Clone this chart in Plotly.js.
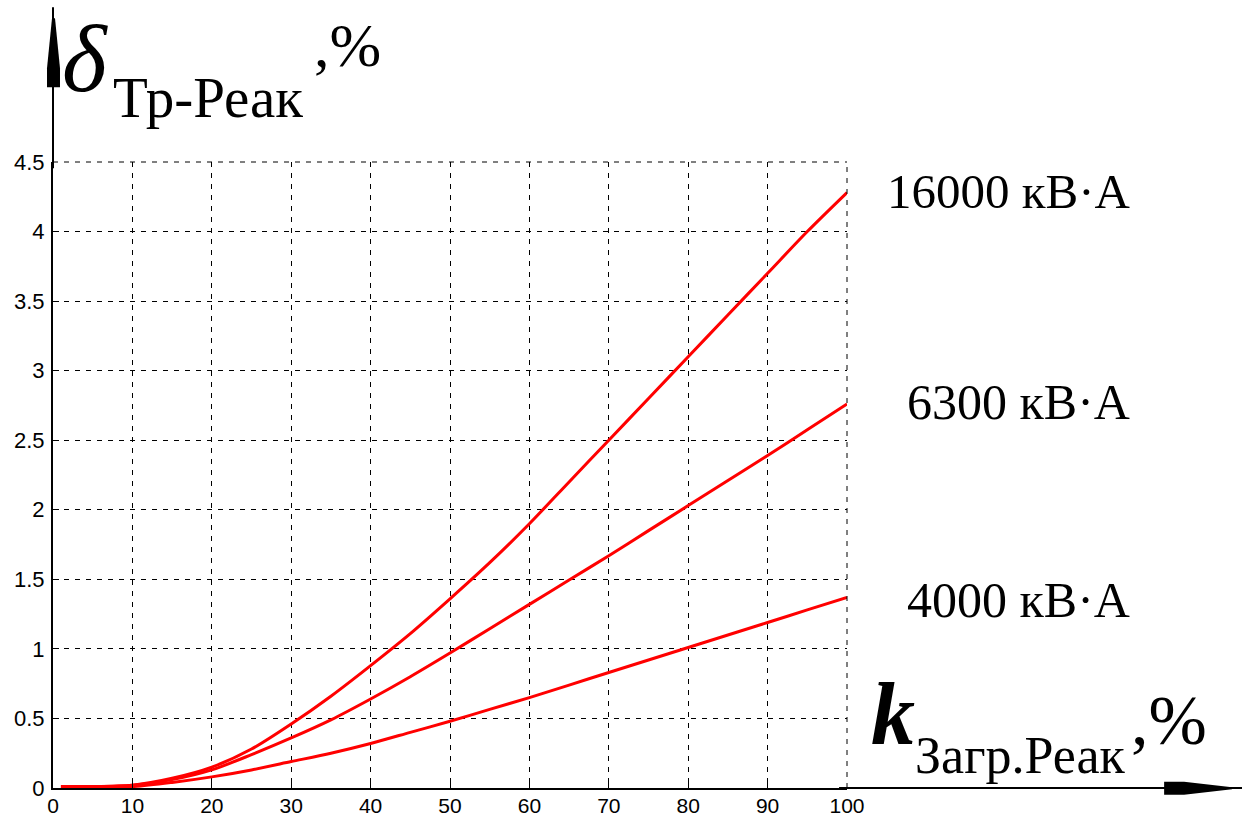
<!DOCTYPE html>
<html>
<head>
<meta charset="utf-8">
<script src="https://cdn.plot.ly/plotly-3.0.1.min.js"></script>
<style>html,body{margin:0;padding:0;background:#fff;}#chart{width:1249px;height:821px;}</style>
</head>
<body>
<div id="chart"></div>
<script>
// ---- data ----
const kLoad = [1, 5, 10, 15, 20, 25, 30, 35, 40, 45, 50, 55, 60, 65, 70, 75, 80, 85, 90, 95, 100];
const s16000 = [0.01, 0.01, 0.02, 0.07, 0.15, 0.28, 0.46, 0.66, 0.88, 1.11, 1.36, 1.62, 1.90, 2.20, 2.50, 2.80, 3.10, 3.40, 3.70, 4.00, 4.28];
const s6300  = [0.01, 0.01, 0.02, 0.06, 0.13, 0.24, 0.36, 0.49, 0.64, 0.80, 0.97, 1.145, 1.32, 1.495, 1.67, 1.85, 2.03, 2.21, 2.39, 2.575, 2.76];
const s4000  = [0.01, 0.01, 0.01, 0.04, 0.08, 0.13, 0.19, 0.25, 0.32, 0.40, 0.48, 0.565, 0.65, 0.74, 0.83, 0.92, 1.01, 1.10, 1.19, 1.28, 1.37];
const seriesNames = ['16000 кВ·А', '6300 кВ·А', '4000 кВ·А'];
const xTicks = [0, 10, 20, 30, 40, 50, 60, 70, 80, 90, 100];
const yTicks = [0, 0.5, 1, 1.5, 2, 2.5, 3, 3.5, 4, 4.5];

// ---- layout geometry (pixels) ----
const W = 1249, H = 821;
const L = 52.5, R = 847.5, T = 161.7, B = 787.7;
const px = x => (x - L) / (R - L);
const py = y => (B - y) / (B - T);
const poly = pts => pts.map((p, i) => (i ? 'L' : 'M') + px(p[0]).toFixed(5) + ',' + py(p[1]).toFixed(5)).join(' ') + ' Z';

const serif = 'Liberation Serif, DejaVu Serif, serif';
const sans = 'Liberation Sans, Arial, sans-serif';
const red = '#ff0000';

const mk = (y, name) => ({
  x: kLoad, y: y, name: name, type: 'scatter', mode: 'lines',
  line: {color: red, width: 3, shape: 'spline', smoothing: 0.8},
  hoverinfo: 'skip'
});
const data = [mk(s16000, seriesNames[0]), mk(s6300, seriesNames[1]), mk(s4000, seriesNames[2])];

const ann = (text, x, y, size, opts) => Object.assign({
  text: text, xref: 'paper', yref: 'paper', x: px(x), y: py(y),
  xanchor: 'left', yanchor: 'middle', showarrow: false,
  font: {family: serif, size: size, color: '#000'}
}, opts || {});

const layout = {
  width: W, height: H,
  margin: {l: L, r: W - R, t: T, b: H - B, pad: 0},
  paper_bgcolor: '#fff', plot_bgcolor: '#fff',
  showlegend: false,
  xaxis: {
    range: [0, 100], tickvals: xTicks, ticktext: xTicks.map(String),
    showgrid: true, gridcolor: '#000', gridwidth: 1, griddash: '5px,6px',
    showline: true, linecolor: '#000', linewidth: 2,
    ticks: 'inside', ticklen: 6, tickcolor: '#000', tickwidth: 1,
    zeroline: false, fixedrange: true, ticklabelstandoff: -2,
    tickfont: {family: sans, size: 21, color: '#000'}
  },
  yaxis: {
    range: [0, 4.5], tickvals: yTicks, ticktext: yTicks.map(String),
    showgrid: true, gridcolor: '#000', gridwidth: 1, griddash: '5px,6px',
    showline: true, linecolor: '#000', linewidth: 2,
    ticks: 'inside', ticklen: 6, tickcolor: '#000', tickwidth: 1,
    zeroline: false, fixedrange: true, ticklabelstandoff: 2,
    tickfont: {family: sans, size: 22, color: '#000'}
  },
  shapes: [
    {type: 'line', xref: 'paper', yref: 'paper', x0: 0, x1: 1, y0: 1, y1: 1, line: {color: '#000', width: 1, dash: '5px,6px'}},
    {type: 'line', xref: 'paper', yref: 'paper', x0: 1, x1: 1, y0: 0, y1: 1, line: {color: '#000', width: 1, dash: '5px,6px'}},
    {type: 'line', xref: 'paper', yref: 'paper', x0: 0, x1: 0, y0: 0.99, y1: py(7), line: {color: '#000', width: 2}},
    {type: 'line', xref: 'paper', yref: 'paper', x0: 0.99, x1: px(1243), y0: 0, y1: 0, line: {color: '#000', width: 2}},
    {type: 'path', xref: 'paper', yref: 'paper', path: poly([[46.5, 87], [59.5, 87], [59.5, 68], [54.5, 18], [51.5, 18], [46.5, 68]]), fillcolor: '#000', line: {width: 0}},
    {type: 'path', xref: 'paper', yref: 'paper', path: poly([[1165, 781.5], [1185, 781.5], [1233, 787], [1233, 789], [1185, 794.5], [1165, 794.5]]), fillcolor: '#000', line: {width: 0}}
  ],
  annotations: [
    ann(seriesNames[0], 1134, 191, 49, {xanchor: 'right'}),
    ann(seriesNames[1], 1133, 402, 50, {xanchor: 'right'}),
    ann(seriesNames[2], 1133, 600, 50, {xanchor: 'right'}),
    // y title
    ann('<i>δ</i>', 60, 58, 96),
    ann('Тр-Реак', 111, 97, 57),
    ann(',%', 312, 45, 62),
    // x title
    ann('<b><i>k</i></b>', 870, 714, 88),
    ann('Загр.Реак', 914, 755, 52),
    ann(',%', 1130, 720, 70)
  ]
};

Plotly.newPlot('chart', data, layout, {staticPlot: true, displayModeBar: false});
</script>
</body>
</html>
